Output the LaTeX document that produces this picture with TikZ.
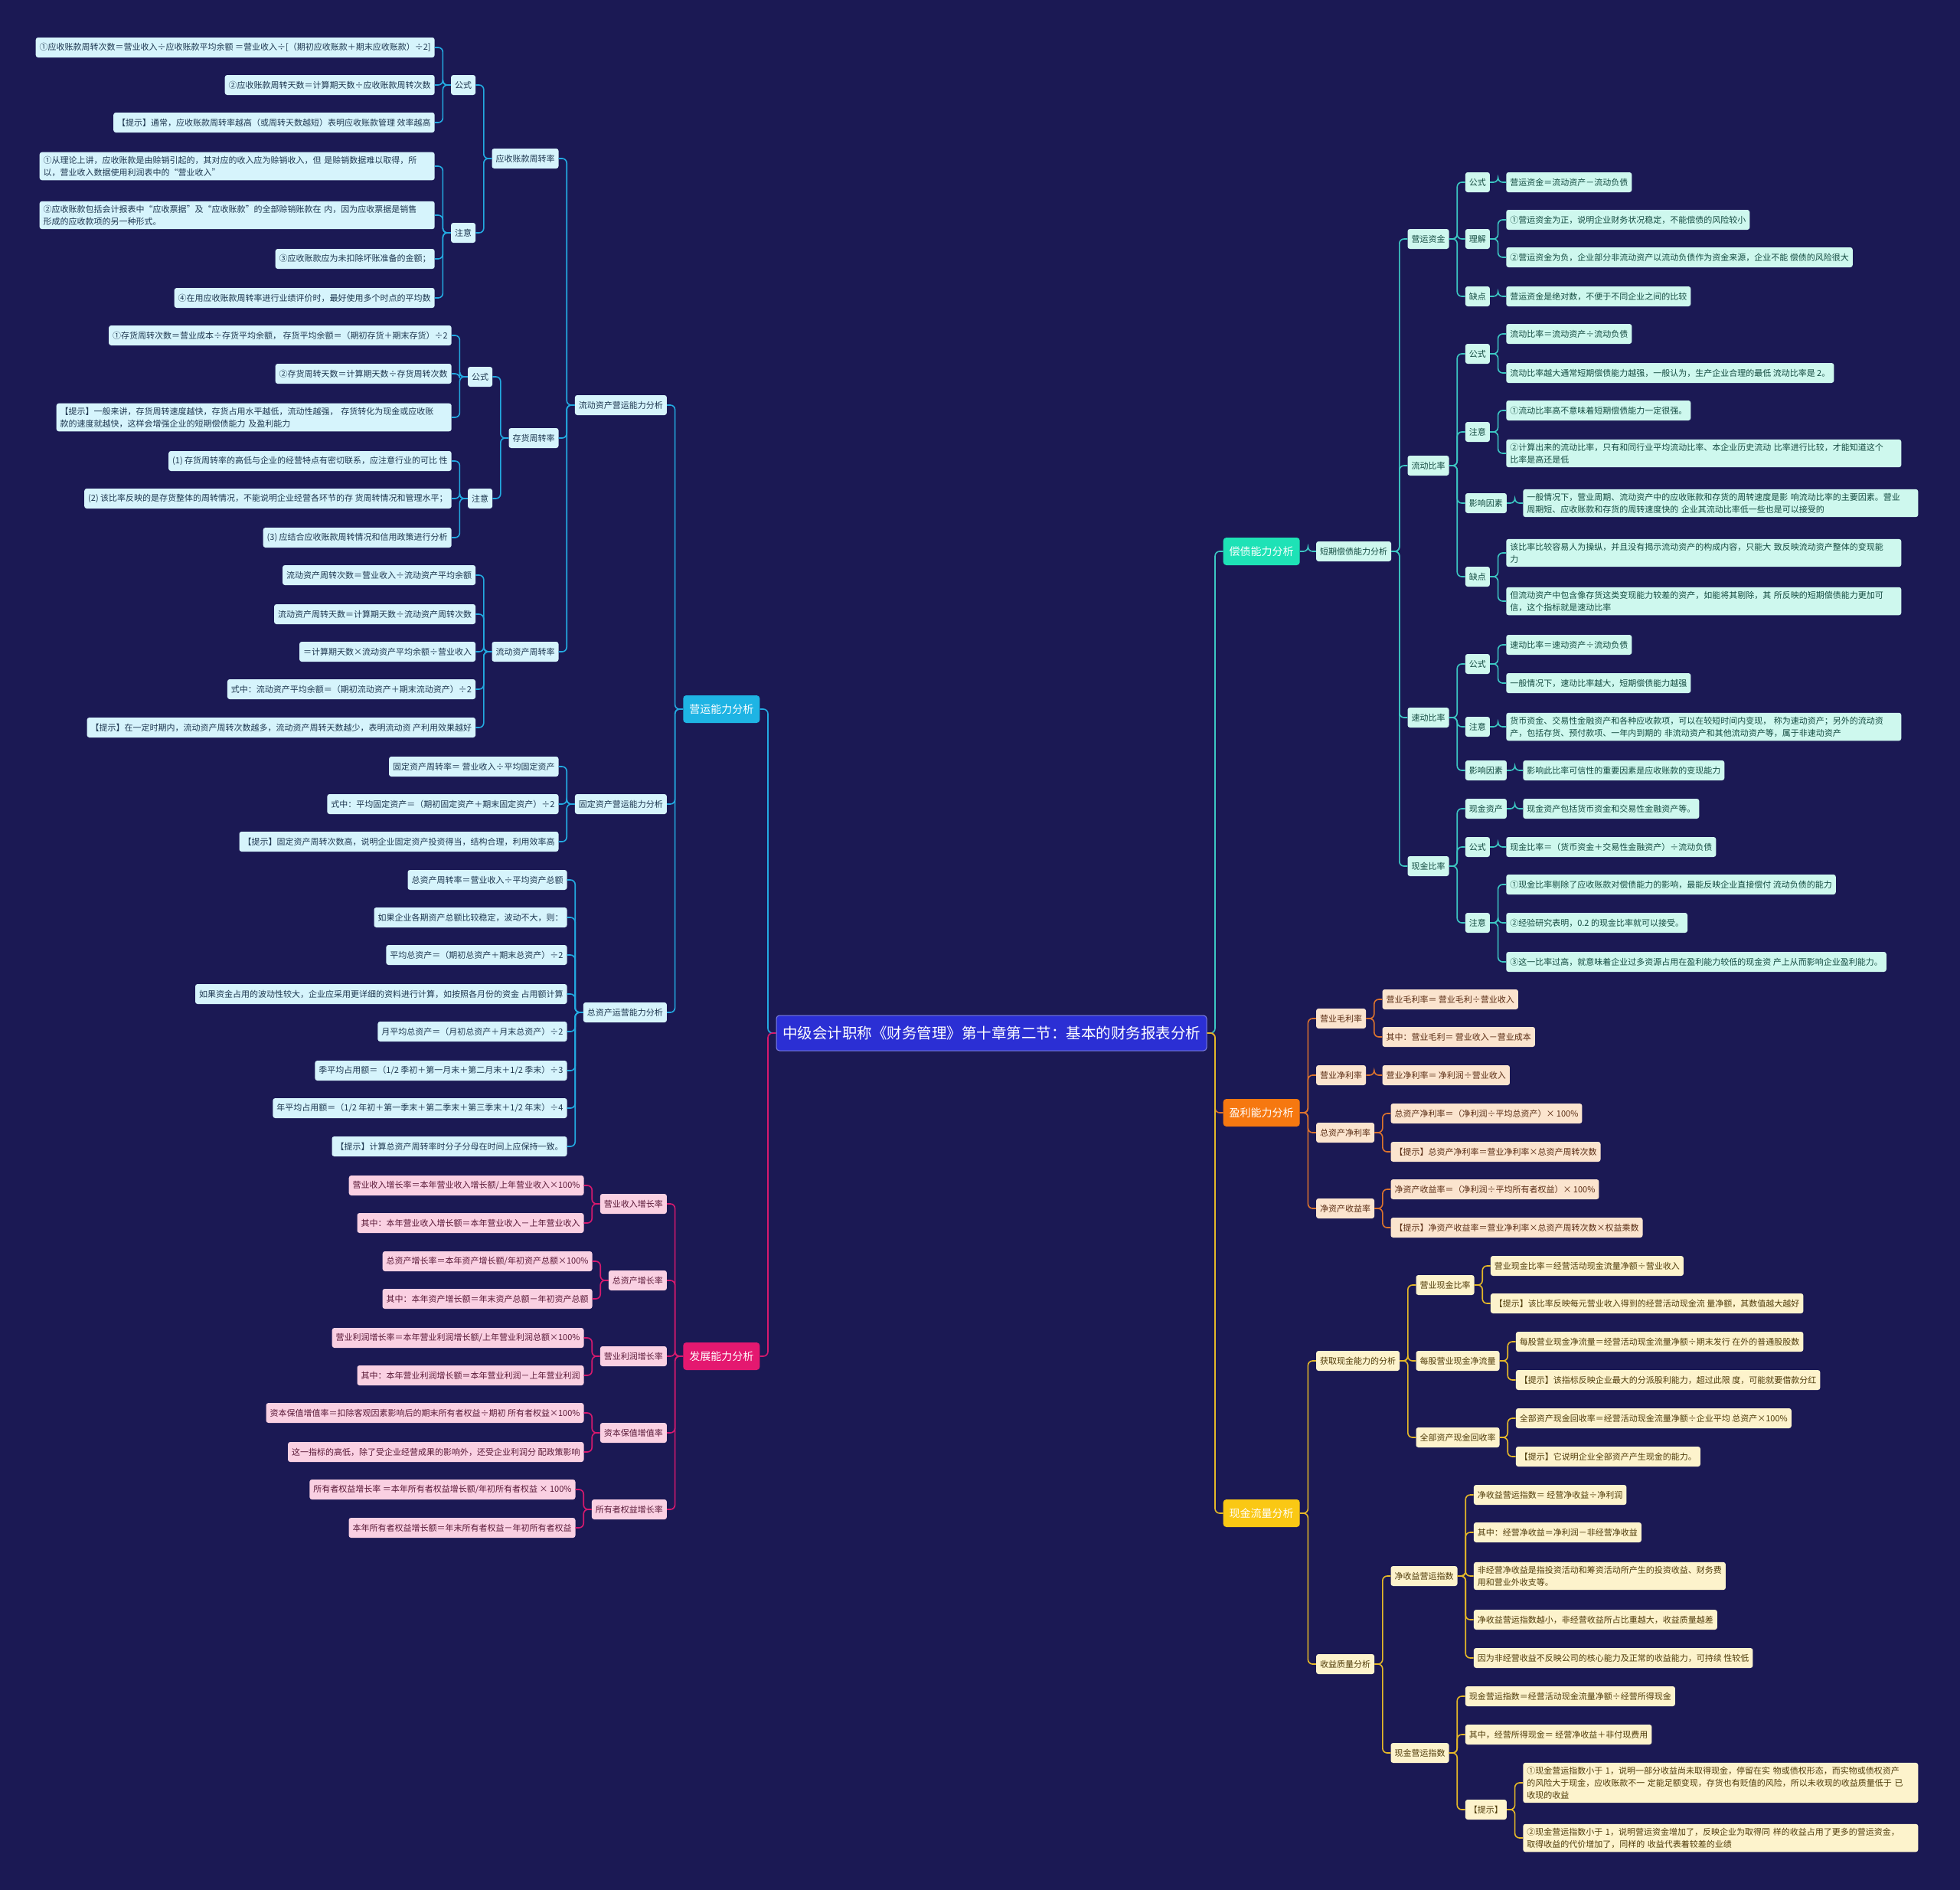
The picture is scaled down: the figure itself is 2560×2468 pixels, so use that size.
\documentclass[tikz,border=0pt]{standalone}
\usepackage{fontspec}
\setmainfont{Noto Sans CJK SC}
\usetikzlibrary{calc,positioning}

\definecolor{bg}{RGB}{27,25,84}
\definecolor{rootc}{RGB}{43,47,212}
\definecolor{cyd}{RGB}{30,180,228}
\definecolor{cyl}{RGB}{214,244,252}
\definecolor{cyt}{RGB}{30,55,80}
\definecolor{cyn}{RGB}{35,170,225}
\definecolor{mgd}{RGB}{228,24,112}
\definecolor{mgl}{RGB}{250,208,226}
\definecolor{mgt}{RGB}{90,25,55}
\definecolor{mgn}{RGB}{215,25,110}
\definecolor{tqd}{RGB}{30,226,182}
\definecolor{tql}{RGB}{206,248,238}
\definecolor{tqt}{RGB}{20,75,65}
\definecolor{tqn}{RGB}{60,200,195}
\definecolor{ord}{RGB}{246,120,16}
\definecolor{orl}{RGB}{251,228,206}
\definecolor{ort}{RGB}{90,45,20}
\definecolor{orn}{RGB}{220,115,45}
\definecolor{yld}{RGB}{250,200,20}
\definecolor{yll}{RGB}{253,243,204}
\definecolor{ylt}{RGB}{80,60,10}
\definecolor{yln}{RGB}{230,185,40}

\tikzset{
  bx/.style={rounded corners=3pt, inner xsep=5pt, inner ysep=5pt, minimum height=26pt, align=left, font=\fontsize{11}{16}\selectfont},
  wide/.style={text width=506pt},
  mainbox/.style={rounded corners=4pt, inner xsep=8pt, minimum height=36pt, font=\fontsize{14}{17}\selectfont, text=white},
  rootbox/.style={rounded corners=4pt, fill=rootc, draw=rootc!60!white, line width=1pt, inner xsep=8pt, minimum height=46pt, font=\fontsize{19.5}{22}\selectfont, text=white},
  cyanbox/.style={bx, fill=cyl, text=cyt, anchor=east},
  pinkbox/.style={bx, fill=mgl, text=mgt, anchor=east},
  mintbox/.style={bx, fill=tql, text=tqt, anchor=west},
  peachbox/.style={bx, fill=orl, text=ort, anchor=west},
  creambox/.style={bx, fill=yll, text=ylt, anchor=west},
  ln/.style={line width=1.6pt, rounded corners=6pt},
  cyanln/.style={ln, draw=cyn}, pinkln/.style={ln, draw=mgn}, mintln/.style={ln, draw=tqn},
  peachln/.style={ln, draw=orn}, creamln/.style={ln, draw=yln},
  lk/.style={rounded corners=6pt, to path={let \p1=(\tikztostart), \p2=(\tikztotarget) in (\p1) -- ({0.5*\x1+0.5*\x2},\y1) |- (\p2)}},
}

\begin{document}
\begin{tikzpicture}[x=1pt, y=-1pt]
  \fill[bg] (0,0) rectangle (2560,2468);

  \node[rootbox] (root) at (1295,1349) {中级会计职称《财务管理》第十章第二节：基本的财务报表分析};

  % left: 营运能力分析
  \node[mainbox, fill=cyd, anchor=east] (yy) at ($(root.west |- 0,926)+(-21,0)$) {营运能力分析};
  \node[cyanbox] (ld) at ($(yy.west |- 0,529)+(-21,0)$) {流动资产营运能力分析};
  \node[cyanbox] (gd) at ($(yy.west |- 0,1050)+(-21,0)$) {固定资产营运能力分析};
  \node[cyanbox] (zz) at ($(yy.west |- 0,1322)+(-21,0)$) {总资产运营能力分析};

  \node[cyanbox] (ys) at ($(ld.west |- 0,207)+(-21,0)$) {应收账款周转率};
  \node[cyanbox] (ch) at ($(ld.west |- 0,572)+(-21,0)$) {存货周转率};
  \node[cyanbox] (lz) at ($(ld.west |- 0,851)+(-21,0)$) {流动资产周转率};

  \node[cyanbox] (ysgs) at ($(ys.west |- 0,111)+(-21,0)$) {公式};
  \node[cyanbox] (yszy) at ($(ys.west |- 0,304)+(-21,0)$) {注意};
  \node[cyanbox] (ysgs1) at ($(ysgs.west |- 0,62)+(-21,0)$) {①应收账款周转次数＝营业收入÷应收账款平均余额 ＝营业收入÷[（期初应收账款＋期末应收账款）÷2]};
  \node[cyanbox] (ysgs2) at ($(ysgs.west |- 0,111)+(-21,0)$) {②应收账款周转天数＝计算期天数÷应收账款周转次数};
  \node[cyanbox] (ysgs3) at ($(ysgs.west |- 0,160)+(-21,0)$) {【提示】通常，应收账款周转率越高（或周转天数越短）表明应收账款管理 效率越高};
  \node[cyanbox, wide] (yszy1) at ($(yszy.west |- 0,217)+(-21,0)$) {①从理论上讲，应收账款是由赊销引起的，其对应的收入应为赊销收入，但 是赊销数据难以取得，所\\以，营业收入数据使用利润表中的“营业收入”};
  \node[cyanbox, wide] (yszy2) at ($(yszy.west |- 0,281)+(-21,0)$) {②应收账款包括会计报表中“应收票据”及“应收账款”的全部赊销账款在 内，因为应收票据是销售\\形成的应收款项的另一种形式。};
  \node[cyanbox] (yszy3) at ($(yszy.west |- 0,338)+(-21,0)$) {③应收账款应为未扣除坏账准备的金额；};
  \node[cyanbox] (yszy4) at ($(yszy.west |- 0,389)+(-21,0)$) {④在用应收账款周转率进行业绩评价时，最好使用多个时点的平均数};

  \node[cyanbox] (chgs) at ($(ch.west |- 0,492)+(-21,0)$) {公式};
  \node[cyanbox] (chzy) at ($(ch.west |- 0,651)+(-21,0)$) {注意};
  \node[cyanbox] (chgs1) at ($(chgs.west |- 0,438)+(-21,0)$) {①存货周转次数＝营业成本÷存货平均余额， 存货平均余额＝（期初存货＋期末存货）÷2};
  \node[cyanbox] (chgs2) at ($(chgs.west |- 0,488)+(-21,0)$) {②存货周转天数＝计算期天数÷存货周转次数};
  \node[cyanbox, wide] (chgs3) at ($(chgs.west |- 0,545)+(-21,0)$) {【提示】一般来讲，存货周转速度越快，存货占用水平越低，流动性越强， 存货转化为现金或应收账\\款的速度就越快，这样会增强企业的短期偿债能力 及盈利能力};
  \node[cyanbox] (chzy1) at ($(chzy.west |- 0,602)+(-21,0)$) {(1) 存货周转率的高低与企业的经营特点有密切联系，应注意行业的可比 性};
  \node[cyanbox] (chzy2) at ($(chzy.west |- 0,651)+(-21,0)$) {(2) 该比率反映的是存货整体的周转情况，不能说明企业经营各环节的存 货周转情况和管理水平；};
  \node[cyanbox] (chzy3) at ($(chzy.west |- 0,702)+(-21,0)$) {(3) 应结合应收账款周转情况和信用政策进行分析};

  \node[cyanbox] (lz1) at ($(lz.west |- 0,751)+(-21,0)$) {流动资产周转次数＝营业收入÷流动资产平均余额};
  \node[cyanbox] (lz2) at ($(lz.west |- 0,802)+(-21,0)$) {流动资产周转天数＝计算期天数÷流动资产周转次数};
  \node[cyanbox] (lz3) at ($(lz.west |- 0,851)+(-21,0)$) {＝计算期天数×流动资产平均余额÷营业收入};
  \node[cyanbox] (lz4) at ($(lz.west |- 0,900)+(-21,0)$) {式中：流动资产平均余额＝（期初流动资产＋期末流动资产）÷2};
  \node[cyanbox] (lz5) at ($(lz.west |- 0,950)+(-21,0)$) {【提示】在一定时期内，流动资产周转次数越多，流动资产周转天数越少，表明流动资 产利用效果越好};

  \node[cyanbox] (gd1) at ($(gd.west |- 0,1001)+(-21,0)$) {固定资产周转率＝ 营业收入÷平均固定资产};
  \node[cyanbox] (gd2) at ($(gd.west |- 0,1050)+(-21,0)$) {式中：平均固定资产＝（期初固定资产＋期末固定资产）÷2};
  \node[cyanbox] (gd3) at ($(gd.west |- 0,1099)+(-21,0)$) {【提示】固定资产周转次数高，说明企业固定资产投资得当，结构合理，利用效率高};

  \node[cyanbox] (zz1) at ($(zz.west |- 0,1149)+(-21,0)$) {总资产周转率＝营业收入÷平均资产总额};
  \node[cyanbox] (zz2) at ($(zz.west |- 0,1198)+(-21,0)$) {如果企业各期资产总额比较稳定，波动不大，则：};
  \node[cyanbox] (zz3) at ($(zz.west |- 0,1247)+(-21,0)$) {平均总资产＝（期初总资产＋期末总资产）÷2};
  \node[cyanbox] (zz4) at ($(zz.west |- 0,1298)+(-21,0)$) {如果资金占用的波动性较大，企业应采用更详细的资料进行计算，如按照各月份的资金 占用额计算};
  \node[cyanbox] (zz5) at ($(zz.west |- 0,1347)+(-21,0)$) {月平均总资产＝（月初总资产＋月末总资产）÷2};
  \node[cyanbox] (zz6) at ($(zz.west |- 0,1398)+(-21,0)$) {季平均占用额＝（1/2 季初＋第一月末＋第二月末＋1/2 季末）÷3};
  \node[cyanbox] (zz7) at ($(zz.west |- 0,1447)+(-21,0)$) {年平均占用额＝（1/2 年初＋第一季末＋第二季末＋第三季末＋1/2 年末）÷4};
  \node[cyanbox] (zz8) at ($(zz.west |- 0,1497)+(-21,0)$) {【提示】计算总资产周转率时分子分母在时间上应保持一致。};

  % left: 发展能力分析
  \node[mainbox, fill=mgd, anchor=east] (fz) at ($(root.west |- 0,1771)+(-21,0)$) {发展能力分析};
  \node[pinkbox] (fz1) at ($(fz.west |- 0,1572)+(-21,0)$) {营业收入增长率};
  \node[pinkbox] (fz2) at ($(fz.west |- 0,1672)+(-21,0)$) {总资产增长率};
  \node[pinkbox] (fz3) at ($(fz.west |- 0,1771)+(-21,0)$) {营业利润增长率};
  \node[pinkbox] (fz4) at ($(fz.west |- 0,1871)+(-21,0)$) {资本保值增值率};
  \node[pinkbox] (fz5) at ($(fz.west |- 0,1971)+(-21,0)$) {所有者权益增长率};
  \node[pinkbox] (fz1a) at ($(fz1.west |- 0,1548)+(-21,0)$) {营业收入增长率＝本年营业收入增长额/上年营业收入×100\%};
  \node[pinkbox] (fz1b) at ($(fz1.west |- 0,1597)+(-21,0)$) {其中：本年营业收入增长额＝本年营业收入－上年营业收入};
  \node[pinkbox] (fz2a) at ($(fz2.west |- 0,1647)+(-21,0)$) {总资产增长率＝本年资产增长额/年初资产总额×100\%};
  \node[pinkbox] (fz2b) at ($(fz2.west |- 0,1696)+(-21,0)$) {其中：本年资产增长额＝年末资产总额－年初资产总额};
  \node[pinkbox] (fz3a) at ($(fz3.west |- 0,1747)+(-21,0)$) {营业利润增长率＝本年营业利润增长额/上年营业利润总额×100\%};
  \node[pinkbox] (fz3b) at ($(fz3.west |- 0,1796)+(-21,0)$) {其中：本年营业利润增长额＝本年营业利润－上年营业利润};
  \node[pinkbox] (fz4a) at ($(fz4.west |- 0,1845)+(-21,0)$) {资本保值增值率＝扣除客观因素影响后的期末所有者权益÷期初 所有者权益×100\%};
  \node[pinkbox] (fz4b) at ($(fz4.west |- 0,1896)+(-21,0)$) {这一指标的高低，除了受企业经营成果的影响外，还受企业利润分 配政策影响};
  \node[pinkbox] (fz5a) at ($(fz5.west |- 0,1945)+(-21,0)$) {所有者权益增长率 ＝本年所有者权益增长额/年初所有者权益 × 100\%};
  \node[pinkbox] (fz5b) at ($(fz5.west |- 0,1995)+(-21,0)$) {本年所有者权益增长额＝年末所有者权益－年初所有者权益};

  % right: 偿债能力分析
  \node[mainbox, fill=tqd, anchor=west] (cz) at ($(root.east |- 0,720)+(21,0)$) {偿债能力分析};
  \node[mintbox] (dq) at ($(cz.east |- 0,720)+(21,0)$) {短期偿债能力分析};
  \node[mintbox] (yz) at ($(dq.east |- 0,312)+(21,0)$) {营运资金};
  \node[mintbox] (lb) at ($(dq.east |- 0,608)+(21,0)$) {流动比率};
  \node[mintbox] (sd) at ($(dq.east |- 0,937)+(21,0)$) {速动比率};
  \node[mintbox] (xb) at ($(dq.east |- 0,1131)+(21,0)$) {现金比率};

  \node[mintbox] (yzgs) at ($(yz.east |- 0,238)+(21,0)$) {公式};
  \node[mintbox] (yzlj) at ($(yz.east |- 0,312)+(21,0)$) {理解};
  \node[mintbox] (yzqd) at ($(yz.east |- 0,387)+(21,0)$) {缺点};
  \node[mintbox] (yzgs1) at ($(yzgs.east |- 0,238)+(21,0)$) {营运资金＝流动资产－流动负债};
  \node[mintbox] (yzlj1) at ($(yzlj.east |- 0,287)+(21,0)$) {①营运资金为正，说明企业财务状况稳定，不能偿债的风险较小};
  \node[mintbox] (yzlj2) at ($(yzlj.east |- 0,336)+(21,0)$) {②营运资金为负，企业部分非流动资产以流动负债作为资金来源，企业不能 偿债的风险很大};
  \node[mintbox] (yzqd1) at ($(yzqd.east |- 0,387)+(21,0)$) {营运资金是绝对数，不便于不同企业之间的比较};

  \node[mintbox] (lbgs) at ($(lb.east |- 0,462)+(21,0)$) {公式};
  \node[mintbox] (lbzy) at ($(lb.east |- 0,564)+(21,0)$) {注意};
  \node[mintbox] (lbyx) at ($(lb.east |- 0,657)+(21,0)$) {影响因素};
  \node[mintbox] (lbqd) at ($(lb.east |- 0,753)+(21,0)$) {缺点};
  \node[mintbox] (lbgs1) at ($(lbgs.east |- 0,436)+(21,0)$) {流动比率＝流动资产÷流动负债};
  \node[mintbox] (lbgs2) at ($(lbgs.east |- 0,487)+(21,0)$) {流动比率越大通常短期偿债能力越强，一般认为，生产企业合理的最低 流动比率是 2。};
  \node[mintbox] (lbzy1) at ($(lbzy.east |- 0,536)+(21,0)$) {①流动比率高不意味着短期偿债能力一定很强。};
  \node[mintbox, wide] (lbzy2) at ($(lbzy.east |- 0,592)+(21,0)$) {②计算出来的流动比率，只有和同行业平均流动比率、本企业历史流动 比率进行比较，才能知道这个\\比率是高还是低};
  \node[mintbox, wide] (lbyx1) at ($(lbyx.east |- 0,657)+(21,0)$) {一般情况下，营业周期、流动资产中的应收账款和存货的周转速度是影 响流动比率的主要因素。营业\\周期短、应收账款和存货的周转速度快的 企业其流动比率低一些也是可以接受的};
  \node[mintbox, wide] (lbqd1) at ($(lbqd.east |- 0,722)+(21,0)$) {该比率比较容易人为操纵，并且没有揭示流动资产的构成内容，只能大 致反映流动资产整体的变现能\\力};
  \node[mintbox, wide] (lbqd2) at ($(lbqd.east |- 0,785)+(21,0)$) {但流动资产中包含像存货这类变现能力较差的资产，如能将其剔除，其 所反映的短期偿债能力更加可\\信，这个指标就是速动比率};

  \node[mintbox] (sdgs) at ($(sd.east |- 0,867)+(21,0)$) {公式};
  \node[mintbox] (sdzy) at ($(sd.east |- 0,949)+(21,0)$) {注意};
  \node[mintbox] (sdyx) at ($(sd.east |- 0,1006)+(21,0)$) {影响因素};
  \node[mintbox] (sdgs1) at ($(sdgs.east |- 0,842)+(21,0)$) {速动比率＝速动资产÷流动负债};
  \node[mintbox] (sdgs2) at ($(sdgs.east |- 0,892)+(21,0)$) {一般情况下，速动比率越大，短期偿债能力越强};
  \node[mintbox, wide] (sdzy1) at ($(sdzy.east |- 0,949)+(21,0)$) {货币资金、交易性金融资产和各种应收款项，可以在较短时间内变现， 称为速动资产；另外的流动资\\产，包括存货、预付款项、一年内到期的 非流动资产和其他流动资产等，属于非速动资产};
  \node[mintbox] (sdyx1) at ($(sdyx.east |- 0,1006)+(21,0)$) {影响此比率可信性的重要因素是应收账款的变现能力};

  \node[mintbox] (xbzc) at ($(xb.east |- 0,1056)+(21,0)$) {现金资产};
  \node[mintbox] (xbgs) at ($(xb.east |- 0,1106)+(21,0)$) {公式};
  \node[mintbox] (xbzy) at ($(xb.east |- 0,1205)+(21,0)$) {注意};
  \node[mintbox] (xbzc1) at ($(xbzc.east |- 0,1056)+(21,0)$) {现金资产包括货币资金和交易性金融资产等。};
  \node[mintbox] (xbgs1) at ($(xbgs.east |- 0,1106)+(21,0)$) {现金比率＝（货币资金＋交易性金融资产）÷流动负债};
  \node[mintbox] (xbzy1) at ($(xbzy.east |- 0,1155)+(21,0)$) {①现金比率剔除了应收账款对偿债能力的影响，最能反映企业直接偿付 流动负债的能力};
  \node[mintbox] (xbzy2) at ($(xbzy.east |- 0,1205)+(21,0)$) {②经验研究表明，0.2 的现金比率就可以接受。};
  \node[mintbox] (xbzy3) at ($(xbzy.east |- 0,1256)+(21,0)$) {③这一比率过高，就意味着企业过多资源占用在盈利能力较低的现金资 产上从而影响企业盈利能力。};

  % right: 盈利能力分析
  \node[mainbox, fill=ord, anchor=west] (yl) at ($(root.east |- 0,1453)+(21,0)$) {盈利能力分析};
  \node[peachbox] (ml) at ($(yl.east |- 0,1330)+(21,0)$) {营业毛利率};
  \node[peachbox] (jl) at ($(yl.east |- 0,1404)+(21,0)$) {营业净利率};
  \node[peachbox] (zj) at ($(yl.east |- 0,1479)+(21,0)$) {总资产净利率};
  \node[peachbox] (jz) at ($(yl.east |- 0,1578)+(21,0)$) {净资产收益率};
  \node[peachbox] (ml1) at ($(ml.east |- 0,1305)+(21,0)$) {营业毛利率＝ 营业毛利÷营业收入};
  \node[peachbox] (ml2) at ($(ml.east |- 0,1354)+(21,0)$) {其中：营业毛利＝ 营业收入－营业成本};
  \node[peachbox] (jl1) at ($(jl.east |- 0,1404)+(21,0)$) {营业净利率＝ 净利润÷营业收入};
  \node[peachbox] (zj1) at ($(zj.east |- 0,1454)+(21,0)$) {总资产净利率＝（净利润÷平均总资产）× 100\%};
  \node[peachbox] (zj2) at ($(zj.east |- 0,1504)+(21,0)$) {【提示】总资产净利率＝营业净利率×总资产周转次数};
  \node[peachbox] (jz1) at ($(jz.east |- 0,1553)+(21,0)$) {净资产收益率＝（净利润÷平均所有者权益）× 100\%};
  \node[peachbox] (jz2) at ($(jz.east |- 0,1603)+(21,0)$) {【提示】净资产收益率＝营业净利率×总资产周转次数×权益乘数};

  % right: 现金流量分析
  \node[mainbox, fill=yld, anchor=west] (xj) at ($(root.east |- 0,1976)+(21,0)$) {现金流量分析};
  \node[creambox] (hq) at ($(xj.east |- 0,1777)+(21,0)$) {获取现金能力的分析};
  \node[creambox] (sy) at ($(xj.east |- 0,2173)+(21,0)$) {收益质量分析};
  \node[creambox] (yx) at ($(hq.east |- 0,1678)+(21,0)$) {营业现金比率};
  \node[creambox] (mg) at ($(hq.east |- 0,1777)+(21,0)$) {每股营业现金净流量};
  \node[creambox] (qb) at ($(hq.east |- 0,1877)+(21,0)$) {全部资产现金回收率};
  \node[creambox] (yx1) at ($(yx.east |- 0,1653)+(21,0)$) {营业现金比率＝经营活动现金流量净额÷营业收入};
  \node[creambox] (yx2) at ($(yx.east |- 0,1702)+(21,0)$) {【提示】该比率反映每元营业收入得到的经营活动现金流 量净额，其数值越大越好};
  \node[creambox] (mg1) at ($(mg.east |- 0,1752)+(21,0)$) {每股营业现金净流量＝经营活动现金流量净额÷期末发行 在外的普通股股数};
  \node[creambox] (mg2) at ($(mg.east |- 0,1802)+(21,0)$) {【提示】该指标反映企业最大的分派股利能力，超过此限 度，可能就要借款分红};
  \node[creambox] (qb1) at ($(qb.east |- 0,1852)+(21,0)$) {全部资产现金回收率＝经营活动现金流量净额÷企业平均 总资产×100\%};
  \node[creambox] (qb2) at ($(qb.east |- 0,1902)+(21,0)$) {【提示】它说明企业全部资产产生现金的能力。};

  \node[creambox] (js) at ($(sy.east |- 0,2058)+(21,0)$) {净收益营运指数};
  \node[creambox] (xy) at ($(sy.east |- 0,2289)+(21,0)$) {现金营运指数};
  \node[creambox] (js1) at ($(js.east |- 0,1952)+(21,0)$) {净收益营运指数＝ 经营净收益÷净利润};
  \node[creambox] (js2) at ($(js.east |- 0,2001)+(21,0)$) {其中：经营净收益＝净利润－非经营净收益};
  \node[creambox] (js3) at ($(js.east |- 0,2058)+(21,0)$) {非经营净收益是指投资活动和筹资活动所产生的投资收益、财务费\\用和营业外收支等。};
  \node[creambox] (js4) at ($(js.east |- 0,2115)+(21,0)$) {净收益营运指数越小，非经营收益所占比重越大，收益质量越差};
  \node[creambox] (js5) at ($(js.east |- 0,2165)+(21,0)$) {因为非经营收益不反映公司的核心能力及正常的收益能力，可持续 性较低};
  \node[creambox] (xy1) at ($(xy.east |- 0,2215)+(21,0)$) {现金营运指数＝经营活动现金流量净额÷经营所得现金};
  \node[creambox] (xy2) at ($(xy.east |- 0,2265)+(21,0)$) {其中，经营所得现金＝ 经营净收益＋非付现费用};
  \node[creambox] (xyts) at ($(xy.east |- 0,2363)+(21,0)$) {【提示】};
  \node[creambox, wide] (xyts1) at ($(xyts.east |- 0,2328)+(21,0)$) {①现金营运指数小于 1，说明一部分收益尚未取得现金，停留在实 物或债权形态，而实物或债权资产\\的风险大于现金，应收账款不一 定能足额变现，存货也有贬值的风险，所以未收现的收益质量低于 已\\收现的收益};
  \node[creambox, wide] (xyts2) at ($(xyts.east |- 0,2400)+(21,0)$) {②现金营运指数小于 1，说明营运资金增加了，反映企业为取得同 样的收益占用了更多的营运资金，\\取得收益的代价增加了，同样的 收益代表着较差的业绩};

  \draw[cyanln] (root.west) edge[lk] (yy.east);
  \draw[pinkln] (root.west) edge[lk] (fz.east);
  \draw[mintln] (root.east) edge[lk] (cz.west);
  \draw[peachln] (root.east) edge[lk] (yl.west);
  \draw[creamln] (root.east) edge[lk] (xj.west);

  \draw[cyanln] (yy.west) edge[lk] (ld.east) edge[lk] (gd.east) edge[lk] (zz.east);
  \draw[cyanln] (ld.west) edge[lk] (ys.east) edge[lk] (ch.east) edge[lk] (lz.east);
  \draw[cyanln] (ys.west) edge[lk] (ysgs.east) edge[lk] (yszy.east);
  \draw[cyanln] (ysgs.west) edge[lk] (ysgs1.east) edge[lk] (ysgs2.east) edge[lk] (ysgs3.east);
  \draw[cyanln] (yszy.west) edge[lk] (yszy1.east) edge[lk] (yszy2.east) edge[lk] (yszy3.east) edge[lk] (yszy4.east);
  \draw[cyanln] (ch.west) edge[lk] (chgs.east) edge[lk] (chzy.east);
  \draw[cyanln] (chgs.west) edge[lk] (chgs1.east) edge[lk] (chgs2.east) edge[lk] (chgs3.east);
  \draw[cyanln] (chzy.west) edge[lk] (chzy1.east) edge[lk] (chzy2.east) edge[lk] (chzy3.east);
  \draw[cyanln] (lz.west) edge[lk] (lz1.east) edge[lk] (lz2.east) edge[lk] (lz3.east) edge[lk] (lz4.east) edge[lk] (lz5.east);
  \draw[cyanln] (gd.west) edge[lk] (gd1.east) edge[lk] (gd2.east) edge[lk] (gd3.east);
  \draw[cyanln] (zz.west) edge[lk] (zz1.east) edge[lk] (zz2.east) edge[lk] (zz3.east) edge[lk] (zz4.east)
    edge[lk] (zz5.east) edge[lk] (zz6.east) edge[lk] (zz7.east) edge[lk] (zz8.east);

  \draw[pinkln] (fz.west) edge[lk] (fz1.east) edge[lk] (fz2.east) edge[lk] (fz3.east) edge[lk] (fz4.east) edge[lk] (fz5.east);
  \draw[pinkln] (fz1.west) edge[lk] (fz1a.east) edge[lk] (fz1b.east);
  \draw[pinkln] (fz2.west) edge[lk] (fz2a.east) edge[lk] (fz2b.east);
  \draw[pinkln] (fz3.west) edge[lk] (fz3a.east) edge[lk] (fz3b.east);
  \draw[pinkln] (fz4.west) edge[lk] (fz4a.east) edge[lk] (fz4b.east);
  \draw[pinkln] (fz5.west) edge[lk] (fz5a.east) edge[lk] (fz5b.east);

  \draw[mintln] (cz.east) edge[lk] (dq.west);
  \draw[mintln] (dq.east) edge[lk] (yz.west) edge[lk] (lb.west) edge[lk] (sd.west) edge[lk] (xb.west);
  \draw[mintln] (yz.east) edge[lk] (yzgs.west) edge[lk] (yzlj.west) edge[lk] (yzqd.west);
  \draw[mintln] (yzgs.east) edge[lk] (yzgs1.west);
  \draw[mintln] (yzlj.east) edge[lk] (yzlj1.west) edge[lk] (yzlj2.west);
  \draw[mintln] (yzqd.east) edge[lk] (yzqd1.west);
  \draw[mintln] (lb.east) edge[lk] (lbgs.west) edge[lk] (lbzy.west) edge[lk] (lbyx.west) edge[lk] (lbqd.west);
  \draw[mintln] (lbgs.east) edge[lk] (lbgs1.west) edge[lk] (lbgs2.west);
  \draw[mintln] (lbzy.east) edge[lk] (lbzy1.west) edge[lk] (lbzy2.west);
  \draw[mintln] (lbyx.east) edge[lk] (lbyx1.west);
  \draw[mintln] (lbqd.east) edge[lk] (lbqd1.west) edge[lk] (lbqd2.west);
  \draw[mintln] (sd.east) edge[lk] (sdgs.west) edge[lk] (sdzy.west) edge[lk] (sdyx.west);
  \draw[mintln] (sdgs.east) edge[lk] (sdgs1.west) edge[lk] (sdgs2.west);
  \draw[mintln] (sdzy.east) edge[lk] (sdzy1.west);
  \draw[mintln] (sdyx.east) edge[lk] (sdyx1.west);
  \draw[mintln] (xb.east) edge[lk] (xbzc.west) edge[lk] (xbgs.west) edge[lk] (xbzy.west);
  \draw[mintln] (xbzc.east) edge[lk] (xbzc1.west);
  \draw[mintln] (xbgs.east) edge[lk] (xbgs1.west);
  \draw[mintln] (xbzy.east) edge[lk] (xbzy1.west) edge[lk] (xbzy2.west) edge[lk] (xbzy3.west);

  \draw[peachln] (yl.east) edge[lk] (ml.west) edge[lk] (jl.west) edge[lk] (zj.west) edge[lk] (jz.west);
  \draw[peachln] (ml.east) edge[lk] (ml1.west) edge[lk] (ml2.west);
  \draw[peachln] (jl.east) edge[lk] (jl1.west);
  \draw[peachln] (zj.east) edge[lk] (zj1.west) edge[lk] (zj2.west);
  \draw[peachln] (jz.east) edge[lk] (jz1.west) edge[lk] (jz2.west);

  \draw[creamln] (xj.east) edge[lk] (hq.west) edge[lk] (sy.west);
  \draw[creamln] (hq.east) edge[lk] (yx.west) edge[lk] (mg.west) edge[lk] (qb.west);
  \draw[creamln] (yx.east) edge[lk] (yx1.west) edge[lk] (yx2.west);
  \draw[creamln] (mg.east) edge[lk] (mg1.west) edge[lk] (mg2.west);
  \draw[creamln] (qb.east) edge[lk] (qb1.west) edge[lk] (qb2.west);
  \draw[creamln] (sy.east) edge[lk] (js.west) edge[lk] (xy.west);
  \draw[creamln] (js.east) edge[lk] (js1.west) edge[lk] (js2.west) edge[lk] (js3.west) edge[lk] (js4.west) edge[lk] (js5.west);
  \draw[creamln] (xy.east) edge[lk] (xy1.west) edge[lk] (xy2.west) edge[lk] (xyts.west);
  \draw[creamln] (xyts.east) edge[lk] (xyts1.west) edge[lk] (xyts2.west);
\end{tikzpicture}
\end{document}
